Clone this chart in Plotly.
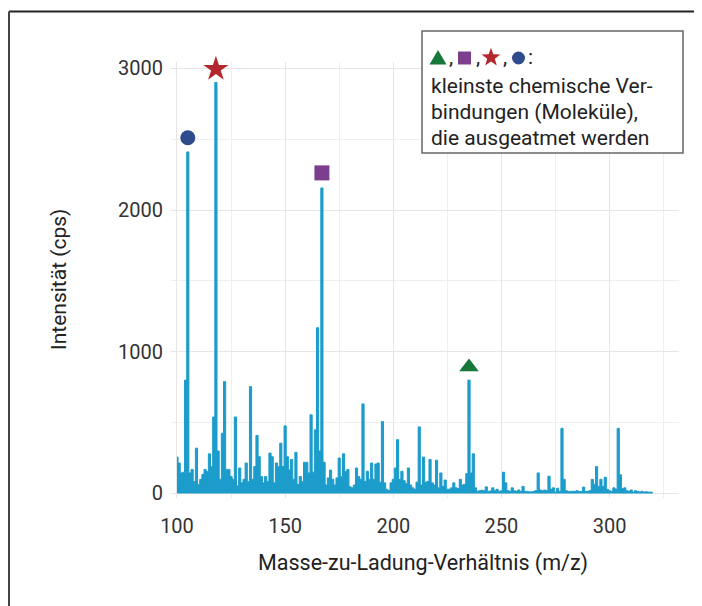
import math
import plotly.graph_objects as go

# ---------------- data ----------------
MZ_START = 100
intensity = [
    257, 215, 145, 150, 800, 2410, 145, 170, 85, 320,      # 100-109
    63, 100, 135, 170, 155, 280, 190, 540, 2900, 300,      # 110-119
    100, 425, 790, 170, 170, 120, 100, 540, 55, 180,       # 120-129
    75, 100, 215, 85, 755, 100, 190, 410, 260, 120,        # 130-139
    75, 120, 85, 285, 260, 75, 215, 190, 355, 190,         # 140-149
    477, 260, 170, 240, 100, 290, 63, 120, 85, 220,        # 150-159
    220, 145, 555, 150, 450, 1170, 300, 2156, 220, 60,     # 160-169
    110, 165, 100, 60, 110, 250, 120, 280, 155, 170,       # 170-179
    47, 40, 60, 180, 120, 100, 632, 85, 157, 100,          # 180-189
    215, 100, 208, 215, 80, 508, 75, 30, 20, 75,           # 190-199
    100, 180, 380, 100, 157, 90, 70, 180, 60, 40,          # 200-209
    30, 80, 470, 60, 257, 80, 85, 240, 75, 60,             # 210-219
    235, 40, 145, 50, 95, 30, 30, 40, 75, 40,              # 220-229
    35, 100, 60, 65, 140, 800, 145, 280, 40, 16,           # 230-239
    20, 23, 20, 47, 15, 18, 40, 20, 30, 15,                # 240-249
    20, 150, 75, 20, 15, 40, 20, 15, 25, 15,               # 250-259
    50, 15, 15, 12, 12, 15, 20, 145, 25, 20,               # 260-269
    25, 20, 122, 30, 40, 10, 37, 15, 460, 100,             # 270-279
    20, 15, 15, 15, 15, 20, 15, 15, 45, 15,                # 280-289
    15, 20, 100, 65, 190, 50, 100, 50, 115, 30,            # 290-299
    20, 15, 40, 30, 460, 133, 35, 40, 20, 15,              # 300-309
    25, 10, 20, 15, 10, 15, 10, 12, 10, 10,                # 310-319
    8,                                                     # 320
]
mz = list(range(MZ_START, MZ_START + len(intensity)))

marker_mz = [235, 167, 118, 105]
marker_y = [893, 2262, 2995, 2510]
marker_symbols = ["triangle-up", "square", "star", "circle"]
marker_colors = ["#17763a", "#7c3f8e", "#b3282d", "#2e4c8c"]
marker_sizes = [17, 15, 19, 15]

x_ticks = [100, 150, 200, 250, 300]
y_ticks = [0, 1000, 2000, 3000]

x_title = "Masse-zu-Ladung-Verhältnis (m/z)"
y_title = "Intensität (cps)"
legend_lines = [
    "kleinste chemische Ver-",
    "bindungen (Moleküle),",
    "die ausgeatmet werden",
]

# ---------------- layout geometry (pixels) ----------------
W, H = 702, 606
OFF = 8  # page body margin: figure origin sits 8 px right/down on screen
# panel edges in screen pixels: left 171, right 679, top 62, bottom 498
L = 171 - OFF
T = 62 - OFF
R = W - (679 - OFF)
B = H - (498 - OFF)
PW, PH = W - L - R, H - T - B


def px(xs):
    """screen x pixel -> paper x"""
    return (xs - OFF - L) / PW


def py(ys):
    """screen y pixel -> paper y"""
    return (H - B - (ys - OFF)) / PH


def path(points):
    return "M " + " L ".join(f"{px(a):.5f},{py(b):.5f}" for a, b in points) + " Z"


FONT = "Roboto, 'Noto Sans', sans-serif"
BLUE = "#1c9cca"
TXT = "#222222"

fig = go.Figure()
fig.add_trace(go.Scatter(
    x=mz, y=intensity, mode="lines", line=dict(color=BLUE, width=1, shape="hvh"),
    fill="tozeroy", fillcolor=BLUE, hoverinfo="x+y",
))
fig.add_trace(go.Scatter(
    x=marker_mz, y=marker_y, mode="markers", cliponaxis=False,
    marker=dict(symbol=marker_symbols, color=marker_colors, size=marker_sizes,
                opacity=1, line=dict(width=0)),
))

grid_major = "#e6e6e6"
grid_minor = "#efefef"
fig.update_layout(
    xaxis=dict(
        range=[97.23, 332.1], tickmode="array", tickvals=x_ticks,
        showgrid=True, gridcolor=grid_major, gridwidth=1,
        minor=dict(dtick=25, tick0=0, showgrid=True, gridcolor=grid_minor, gridwidth=1),
        zeroline=False, showline=False, ticks="outside", ticklen=10,
        tickcolor="rgba(0,0,0,0)", tickfont=dict(family=FONT, size=20, color="#333333"),
    ),
    yaxis=dict(
        range=[-31.8, 3044.5], tickmode="array", tickvals=y_ticks,
        showgrid=True, gridcolor=grid_major, gridwidth=1,
        minor=dict(dtick=500, tick0=0, showgrid=True, gridcolor=grid_minor, gridwidth=1),
        zeroline=False, showline=False, ticks="outside", ticklen=3,
        tickcolor="rgba(0,0,0,0)", tickfont=dict(family=FONT, size=20, color="#333333"),
    ),
)

annotations = [
    dict(text=x_title, x=px(423), y=py(563), xref="paper", yref="paper",
         showarrow=False, xanchor="center", yanchor="middle",
         font=dict(family=FONT, size=21.5, color=TXT)),
    dict(text=y_title, x=px(59), y=py(280), xref="paper", yref="paper",
         showarrow=False, xanchor="center", yanchor="middle", textangle=-90,
         font=dict(family=FONT, size=21, color=TXT)),
]
for xs, ch in [(447, ","), (473.5, ","), (501, ","), (526, ":")]:
    annotations.append(dict(
        text=ch, x=px(xs), y=py(57), xref="paper", yref="paper", showarrow=False,
        xanchor="left", yanchor="middle", font=dict(family=FONT, size=21, color=TXT)))
for i, line in enumerate(legend_lines):
    annotations.append(dict(
        text=line, x=px(429), y=py(86.5 + 25.7 * i), xref="paper", yref="paper",
        showarrow=False, xanchor="left", yanchor="middle",
        font=dict(family=FONT, size=21, color=TXT)))

# legend key symbols as shapes (screen pixel geometry)
tri = [(429.5, 64.5), (446.5, 64.5), (438, 50)]
cx, cy, ro, ri = 491, 57.5, 9.8, 4.0
star = []
for k in range(10):
    r = ro if k % 2 == 0 else ri
    a = -math.pi / 2 + k * math.pi / 5
    star.append((cx + r * math.cos(a), cy + r * math.sin(a)))

shapes = [
    # legend box
    dict(type="rect", xref="paper", yref="paper",
         x0=px(422), x1=px(683), y0=py(153), y1=py(31),
         line=dict(color="#666666", width=1.5), fillcolor="white", layer="above"),
    dict(type="path", xref="paper", yref="paper", path=path(tri),
         fillcolor=marker_colors[0], line=dict(width=0), layer="above"),
    dict(type="rect", xref="paper", yref="paper",
         x0=px(458), x1=px(471), y0=py(64.5), y1=py(51.5),
         fillcolor=marker_colors[1], line=dict(width=0), layer="above"),
    dict(type="path", xref="paper", yref="paper", path=path(star),
         fillcolor=marker_colors[2], line=dict(width=0), layer="above"),
    dict(type="circle", xref="paper", yref="paper",
         x0=px(512), x1=px(525), y0=py(64.5), y1=py(51.5),
         fillcolor=marker_colors[3], line=dict(width=0), layer="above"),
    # outer frame (top and left)
    dict(type="line", xref="paper", yref="paper",
         x0=px(9), x1=px(720), y0=py(11.5), y1=py(11.5),
         line=dict(color="#222222", width=2)),
    dict(type="line", xref="paper", yref="paper",
         x0=px(9), x1=px(9), y0=py(11.5), y1=py(620),
         line=dict(color="#444444", width=2)),
]

fig.update_layout(
    width=W, height=H, margin=dict(l=L, r=R, t=T, b=B),
    plot_bgcolor="white", paper_bgcolor="white", showlegend=False,
    annotations=annotations, shapes=shapes,
    font=dict(family=FONT),
)

fig.write_html("out.html")
